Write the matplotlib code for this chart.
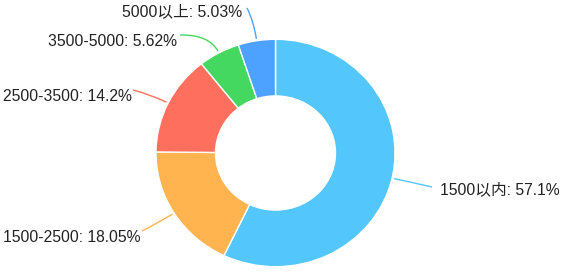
import numpy as np
import matplotlib.pyplot as plt
from matplotlib.path import Path
from matplotlib.patches import PathPatch

# data
labels = ['1500以内', '1500-2500', '2500-3500', '3500-5000', '5000以上']
values = [57.1, 18.05, 14.2, 5.62, 5.03]
value_text = ['57.1%', '18.05%', '14.2%', '5.62%', '5.03%']
colors = ['#53C6FB', '#FFB44F', '#FE6F5E', '#44D860', '#4DA1FF']

# label anchors in pixels (x, y from top) and leader-line ends
label_pos = [(440, 190), (3, 237), (3, 96), (48, 41), (122, 12)]
line_end = [(432, 187), (142, 231), (133, 90), (180, 35), (247, 8)]

W, H = 565, 274
# the reference donut is slightly squashed vertically
cx, cy, R, r_in = 275.5, 153, 119.5, 60
sy = 113.7 / 119.5

plt.rcParams['font.family'] = ['Liberation Sans', 'Noto Sans CJK SC', 'DejaVu Sans']

fig = plt.figure(figsize=(W / 100, H / 100), dpi=100)
ax = fig.add_axes([0, 0, 1, 1])


def fy(py):
    return (H - py) / sy


wedges, _ = ax.pie(values, colors=colors, startangle=90, counterclock=False,
                   center=(cx, fy(cy)), radius=R,
                   wedgeprops=dict(width=R - r_in, edgecolor='white', linewidth=1))

# pie resets the limits, so set them afterwards
ax.set_xlim(0, W)
ax.set_ylim(0, H / sy)
ax.set_aspect('auto')
ax.axis('off')

total = sum(values)
cum = 0
for i, v in enumerate(values):
    mid = (cum + v / 2) / total * 2 * np.pi
    cum += v
    dx, dy = np.sin(mid), np.cos(mid)
    start = (cx + (R + 2) * dx, fy(cy) + (R + 2) * dy)
    elbow = (cx + (R + 22) * dx, fy(cy) + (R + 22) * dy)
    ex, ey = line_end[i]
    end = (ex, fy(ey))
    path = Path([start, elbow, end], [Path.MOVETO, Path.CURVE3, Path.CURVE3])
    ax.add_patch(PathPatch(path, fill=False, edgecolor=colors[i], linewidth=1))
    lx, ly = label_pos[i]
    ax.text(lx, fy(ly), f'{labels[i]}: {value_text[i]}', fontsize=11.3,
            color='#222222', ha='left', va='center')

plt.savefig('out.png', dpi=100)
